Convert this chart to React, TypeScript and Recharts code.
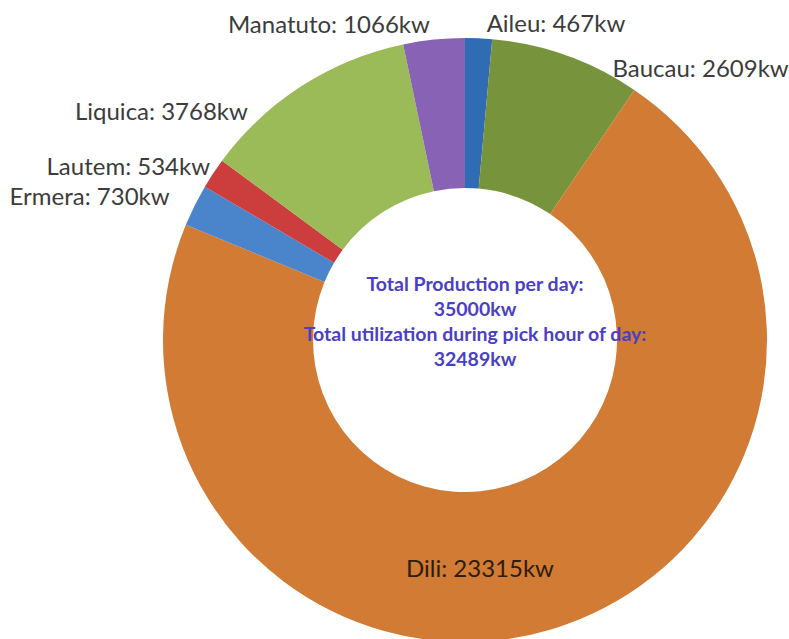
import React from "react";
import { PieChart, Pie, Cell } from "recharts";

const districts = ["Aileu", "Baucau", "Dili", "Ermera", "Lautem", "Liquica", "Manatuto"];
const powerKw = [467, 2609, 23315, 730, 534, 3768, 1066];
const sliceColors = ["#2f6cb3", "#77933c", "#d17b35", "#4a84cb", "#cc3d3d", "#9bbb59", "#8762b5"];
const centerLines = [
  "Total Production per day:",
  "35000kw",
  "Total utilization during pick hour of day:",
  "32489kw",
];

const data = districts.map((name, i) => ({ name, value: powerKw[i] }));

const W = 789;
const H = 639;
const CX = 465;
const CY = 340;
const OUTER = 302;
const INNER = 152;
const RAD = Math.PI / 180;

// label placement nudges (relative to outer-edge point at the slice mid angle)
const labelNudge: Record<string, [number, number, string]> = {
  Aileu: [8, -6, "start"],
  Baucau: [46, 21, "start"],
  Dili: [-72, -52, "middle"],
  Ermera: [-25, 0, "end"],
  Lautem: [-3, 2, "end"],
  Liquica: [-54, 34, "end"],
  Manatuto: [-4, -7, "end"],
};

const FONT = "Lato, 'Open Sans', sans-serif";

const renderLabel = (p: any) => {
  const { cx, cy, midAngle, outerRadius, name, value } = p;
  const bx = cx + outerRadius * Math.cos(-midAngle * RAD);
  const by = cy + outerRadius * Math.sin(-midAngle * RAD);
  const [dx, dy, anchor] = labelNudge[name] || [0, 0, "middle"];
  const inside = name === "Dili";
  return (
    <text
      x={bx + dx}
      y={by + dy}
      textAnchor={anchor as any}
      fontFamily={FONT}
      fontSize={24}
      fill={inside ? "#2e1c0c" : "#3c3c3c"}
    >
      {`${name}: ${value}kw`}
    </text>
  );
};

export default function App() {
  return (
    <div style={{ position: "absolute", left: 0, top: 0, width: W, height: H, background: "#fff" }}>
      <PieChart width={W} height={H} margin={{ top: 0, right: 0, bottom: 0, left: 0 }}>
        <Pie
          data={data}
          dataKey="value"
          nameKey="name"
          cx={CX}
          cy={CY}
          outerRadius={OUTER}
          innerRadius={INNER}
          startAngle={90}
          endAngle={-270}
          stroke="none"
          label={renderLabel}
          labelLine={false}
          isAnimationActive={false}
        >
          {data.map((d, i) => (
            <Cell key={d.name} fill={sliceColors[i]} />
          ))}
        </Pie>
      </PieChart>
      <svg
        width={W}
        height={H}
        style={{ position: "absolute", left: 0, top: 0, pointerEvents: "none" }}
      >
        {centerLines.map((t, i) => (
          <text
            key={i}
            x={CX + 10}
            y={CY - 49 + i * 25}
            textAnchor="middle"
            fontFamily={FONT}
            fontWeight="bold"
            fontSize={19.5}
            fill="#4a40c4"
          >
            {t}
          </text>
        ))}
      </svg>
    </div>
  );
}
